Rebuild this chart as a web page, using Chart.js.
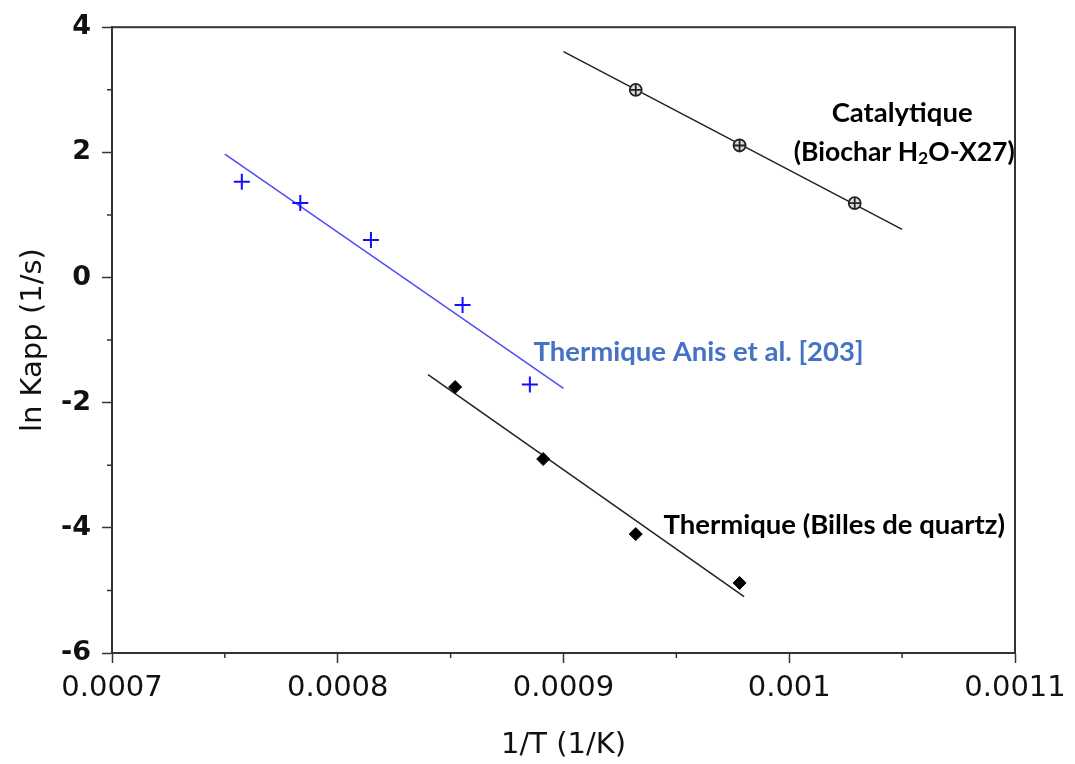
<!DOCTYPE html>
<html>
<head>
<meta charset="utf-8">
<script src="https://cdn.jsdelivr.net/npm/chart.js@4"></script>
<style>
  html, body { margin: 0; padding: 0; background: #fff; }
  canvas { display: block; }
</style>
</head>
<body>
<canvas id="arrhenius" width="1075" height="764"></canvas>
<script>
// Thermique Anis et al. [203]
const anisX = [0.0007575, 0.0007834, 0.0008147, 0.0008553, 0.0008851];
const anisY = [1.53, 1.19, 0.60, -0.44, -1.71];
const anisFitX = [0.00075, 0.0009];
const anisFitY = [1.97, -1.77];

// Thermique (Billes de quartz)
const quartzX = [0.000852, 0.000891, 0.000932, 0.000978];
const quartzY = [-1.75, -2.90, -4.10, -4.88];
const quartzFitX = [0.00084, 0.00098];
const quartzFitY = [-1.55, -5.10];

// Catalytique (Biochar H2O-X27)
const catalX = [0.000932, 0.000978, 0.001029];
const catalY = [3.00, 2.11, 1.19];
const catalFitX = [0.0009, 0.00105];
const catalFitY = [3.61, 0.77];

// axes
const xTickLabels = ['0.0007', '0.0008', '0.0009', '0.001', '0.0011'];
const yTickLabels = ['-6', '-4', '-2', '0', '2', '4'];

// annotations (data coordinates); '|' marks a subscript part
const noteText = ['Catalytique', '(Biochar H|2|O-X27)', 'Thermique Anis et al. [203]', 'Thermique (Billes de quartz)'];
const noteX = [0.00105, 0.001002, 0.0008867, 0.0009443];
const noteY = [2.625, 2.0, -1.195, -3.96];
const noteSize = [27.5, 26.5, 27.5, 27.5];

const toPoints = (xs, ys) => xs.map((x, i) => ({ x: x, y: ys[i] }));

const AXIS_COLOR = '#333';

function isMajorX(v) { return Math.round(v * 1e5) % 2 === 0; }
function isMajorY(v) { return Math.round(v) % 2 === 0; }

const framePlugin = {
  id: 'frame',
  afterDraw(chart) {
    const ctx = chart.ctx;
    const a = chart.chartArea;
    const xs = chart.scales.x, ys = chart.scales.y;
    ctx.save();
    ctx.strokeStyle = AXIS_COLOR;
    ctx.lineWidth = 2;
    ctx.strokeRect(a.left, a.top, a.right - a.left, a.bottom - a.top);

    // minor ticks
    ctx.lineWidth = 1.5;
    ctx.beginPath();
    xs.ticks.forEach(t => {
      if (isMajorX(t.value)) return;
      const px = xs.getPixelForValue(t.value);
      ctx.moveTo(px, a.bottom);
      ctx.lineTo(px, a.bottom + 5);
    });
    ys.ticks.forEach(t => {
      if (isMajorY(t.value)) return;
      const py = ys.getPixelForValue(t.value);
      ctx.moveTo(a.left, py);
      ctx.lineTo(a.left - 5, py);
    });
    ctx.stroke();

    // annotations
    ctx.textBaseline = 'middle';
    const bold = sz => 'bold ' + sz + 'px Lato';
    noteText.forEach((txt, i) => {
      const px = xs.getPixelForValue(noteX[i]);
      const py = ys.getPixelForValue(noteY[i]);
      ctx.fillStyle = i === 2 ? '#4472c4' : '#000';
      if (i === 0) {
        ctx.font = bold(noteSize[i]);
        ctx.textAlign = 'center';
        ctx.fillText(txt, px, py);
        return;
      }
      ctx.textAlign = 'left';
      const parts = txt.split('|');
      let cx = px;
      parts.forEach((p, k) => {
        const sub = k % 2 === 1;
        ctx.font = bold(sub ? 17.5 : noteSize[i]);
        ctx.fillText(p, cx, sub ? py + 6 : py);
        cx += ctx.measureText(p).width;
      });
    });
    ctx.restore();
  }
};

const whiteBg = {
  id: 'whiteBg',
  beforeDraw(chart) {
    const ctx = chart.ctx;
    ctx.save();
    ctx.fillStyle = '#fff';
    ctx.fillRect(0, 0, chart.width, chart.height);
    ctx.restore();
  }
};

new Chart(document.getElementById('arrhenius'), {
  type: 'scatter',
  data: {
    datasets: [
      {
        label: 'Anis',
        data: toPoints(anisX, anisY),
        pointStyle: 'cross',
        pointRadius: 8,
        borderColor: '#1010ff',
        borderWidth: 2,
        order: 0
      },
      {
        label: 'Quartz',
        data: toPoints(quartzX, quartzY),
        pointStyle: 'rectRot',
        pointRadius: 6.5,
        backgroundColor: '#000',
        borderColor: '#000',
        borderWidth: 1,
        order: 0
      },
      {
        label: 'Catal cross',
        data: toPoints(catalX, catalY),
        pointStyle: 'cross',
        pointRadius: 6,
        borderColor: '#222',
        borderWidth: 1.8,
        order: 0
      },
      {
        label: 'Catal',
        data: toPoints(catalX, catalY),
        pointStyle: 'circle',
        pointRadius: 6,
        backgroundColor: '#ddd',
        borderColor: '#222',
        borderWidth: 1.8,
        order: 1
      },
      {
        label: 'Anis fit',
        data: toPoints(anisFitX, anisFitY),
        showLine: true,
        pointRadius: 0,
        borderColor: '#4d4df5',
        borderWidth: 1.5,
        order: 2
      },
      {
        label: 'Quartz fit',
        data: toPoints(quartzFitX, quartzFitY),
        showLine: true,
        pointRadius: 0,
        borderColor: '#222',
        borderWidth: 1.5,
        order: 2
      },
      {
        label: 'Catal fit',
        data: toPoints(catalFitX, catalFitY),
        showLine: true,
        pointRadius: 0,
        borderColor: '#222',
        borderWidth: 1.5,
        order: 2
      }
    ]
  },
  options: {
    responsive: false,
    animation: false,
    layout: { padding: { top: 27, right: 60, left: 0, bottom: 0 } },
    plugins: {
      legend: { display: false },
      tooltip: { enabled: false }
    },
    scales: {
      x: {
        type: 'linear',
        min: 0.0007,
        max: 0.0011,
        afterFit: s => { s.height = 111; },
        border: { display: true, color: AXIS_COLOR, width: 2 },
        grid: {
          drawOnChartArea: false,
          tickLength: 10,
          tickWidth: 1.5,
          tickColor: c => isMajorX(c.tick.value) ? AXIS_COLOR : 'rgba(0,0,0,0)'
        },
        ticks: {
          stepSize: 0.00005,
          autoSkip: false,
          maxRotation: 0,
          padding: 8,
          color: '#111',
          font: { family: 'DejaVu Sans', size: 29 },
          callback: v => isMajorX(v) ? xTickLabels[Math.round(v * 1e4) - 7] : ''
        },
        title: {
          display: true,
          text: '1/T (1/K)',
          color: '#111',
          font: { family: 'DejaVu Sans', size: 29 },
          padding: { top: 0, bottom: 1 }
        }
      },
      y: {
        type: 'linear',
        min: -6,
        max: 4,
        afterFit: s => { s.width = 112; },
        border: { display: true, color: AXIS_COLOR, width: 2 },
        grid: {
          drawOnChartArea: false,
          tickLength: 10,
          tickWidth: 1.5,
          tickColor: c => isMajorY(c.tick.value) ? AXIS_COLOR : 'rgba(0,0,0,0)'
        },
        ticks: {
          stepSize: 1,
          autoSkip: false,
          padding: 11,
          color: '#111',
          font: { family: 'DejaVu Sans', size: 27, weight: 'bold' },
          callback: v => isMajorY(v) ? yTickLabels[(Math.round(v) + 6) / 2] : ''
        },
        title: {
          display: true,
          text: 'ln Kapp (1/s)',
          color: '#111',
          font: { family: 'DejaVu Sans', size: 29 },
          padding: { top: 16, bottom: 0 }
        }
      }
    }
  },
  plugins: [whiteBg, framePlugin]
});
</script>
</body>
</html>
